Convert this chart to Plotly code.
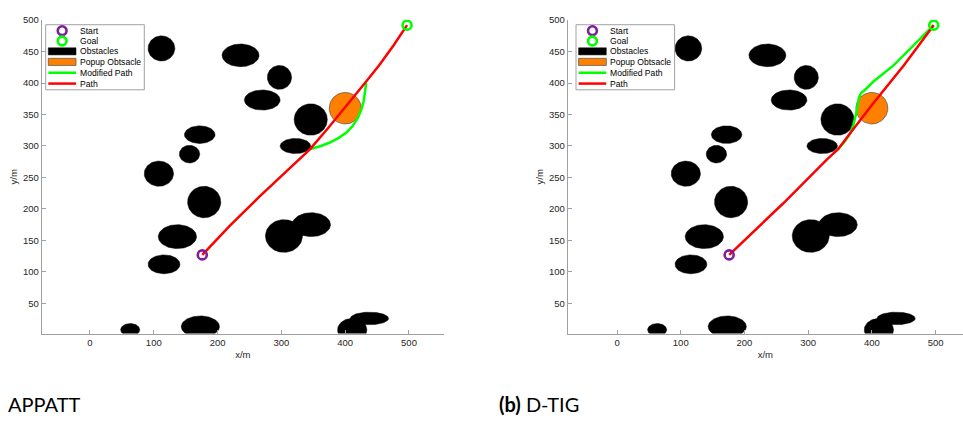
import numpy as np
import plotly.graph_objects as go

# ---------------- data ----------------
start = (176, 127)
goal = (497, 492)

obs_x = [112, 236, 297, 270, 346, 322, 172, 156, 108, 179, 137, 116, 304, 347, 63, 173, 438, 411]
obs_y = [455, 444, 409, 373, 342, 300, 318, 287, 256, 211, 156, 112, 157, 175, 8, 13, 26, 8]
obs_a = [21, 29, 19, 28, 26, 24, 24, 16, 23, 26, 30, 25, 29, 30, 15, 30, 30, 23]
obs_b = [20, 18, 19, 16, 25, 12, 14, 14, 20, 25, 19, 15, 26, 19, 10, 17, 10, 18]

popup_center = (400, 360)
popup_r = 25

# APPATT paths
a_path_x = [176, 219, 266, 345, 372, 400, 431, 453, 476, 497]
a_path_y = [127, 173, 220, 295, 327, 361, 400, 428, 460, 492]
a_mod_x = [345, 362, 376, 390, 402, 412, 420, 425, 429, 431, 432.5, 433]
a_mod_y = [295, 300, 305.5, 313, 321.5, 332, 345, 357, 371, 384, 394, 400]

# D-TIG paths
d_path_x = [176, 261, 330, 347, 365, 400, 450, 497]
d_path_y = [127, 209, 279, 295, 319, 365, 428, 492]
d_mod_x = [347, 358, 366, 371, 375, 377.5, 379.5, 383, 389, 402, 434, 497]
d_mod_y = [295, 308, 320, 334, 350, 364, 376, 384, 389, 402, 428, 492]

x_ticks = [0, 100, 200, 300, 400, 500]
y_ticks = [50, 100, 150, 200, 250, 300, 350, 400, 450, 500]
captions = ["APPATT", "<b>(b)</b> D-TIG"]
legend_labels = ["Start", "Goal", "Obstacles", "Popup Obtsacle", "Modified Path", "Path"]

# ---------------- styles ----------------
C_START = "#7E1E9C"
C_GOAL = "#00FF00"
C_OBS = "black"
C_POP = "#FF8000"
C_MOD = "#00FF00"
C_PATH = "#FF0000"
AX = "#a0a0a0"

W, H = 963, 421
t = np.linspace(0, 2 * np.pi, 91)


def ellipses(xs, ys, a_s, b_s):
    X, Y = [], []
    for cx, cy, a, b in zip(xs, ys, a_s, b_s):
        X += list(cx + a * np.cos(t)) + [None]
        Y += list(cy + b * np.sin(t)) + [None]
    return X, Y


ox, oy = ellipses(obs_x, obs_y, obs_a, obs_b)
px, py = ellipses([popup_center[0]], [popup_center[1]], [popup_r], [popup_r])

fig = go.Figure()

panels = [
    ("x", "y", a_path_x, a_path_y, a_mod_x, a_mod_y),
    ("x2", "y2", d_path_x, d_path_y, d_mod_x, d_mod_y),
]

for xa, ya, rx, ry, mx, my in panels:
    common = dict(xaxis=xa, yaxis=ya, hoverinfo="skip", showlegend=False)
    fig.add_trace(go.Scatter(x=ox, y=oy, mode="lines", fill="toself",
                             fillcolor=C_OBS, line=dict(color=C_OBS, width=0.5),
                             name=legend_labels[2], **common))
    fig.add_trace(go.Scatter(x=px, y=py, mode="lines", fill="toself",
                             fillcolor=C_POP, line=dict(color="#4d4d4d", width=0.7),
                             name=legend_labels[3], **common))
    fig.add_trace(go.Scatter(x=mx, y=my, mode="lines", line=dict(color=C_MOD, width=2.5),
                             name=legend_labels[4], **common))
    fig.add_trace(go.Scatter(x=rx, y=ry, mode="lines", line=dict(color=C_PATH, width=2.5),
                             name=legend_labels[5], **common))
    fig.add_trace(go.Scatter(x=[start[0]], y=[start[1]], mode="markers",
                             marker=dict(symbol="circle-open", size=9, color=C_START, line=dict(width=2.6)),
                             name=legend_labels[0], **common))
    fig.add_trace(go.Scatter(x=[goal[0]], y=[goal[1]], mode="markers",
                             marker=dict(symbol="circle-open", size=9, color=C_GOAL, line=dict(width=2.6)),
                             name=legend_labels[1], **common))

tickfont = dict(family="Liberation Sans, Arial, sans-serif", size=9.5, color="#262626")
axis_common = dict(showgrid=False, zeroline=False, showline=True, linecolor=AX, linewidth=1,
                   ticks="inside", ticklen=4, tickcolor=AX, tickfont=tickfont, mirror=False)

fig.update_layout(
    width=W, height=H, margin=dict(l=0, r=0, t=0, b=0),
    paper_bgcolor="white", plot_bgcolor="white", showlegend=False,
    xaxis=dict(domain=[41.7 / W, 444 / W], range=[-75.7, 554.9], tickvals=x_ticks, anchor="y",
               title=dict(text="x/m", font=tickfont, standoff=4), **axis_common),
    yaxis=dict(domain=[(H - 332.3) / H, (H - 14.3) / H], range=[2, 500], tickvals=y_ticks, anchor="x",
               title=dict(text="y/m", font=tickfont, standoff=3), **axis_common),
    xaxis2=dict(domain=[567.7 / W, 1.0], range=[-77.4, 543], tickvals=x_ticks, anchor="y2",
                title=dict(text="x/m", font=tickfont, standoff=4), **axis_common),
    yaxis2=dict(domain=[(H - 332.3) / H, (H - 14.3) / H], range=[2, 500], tickvals=y_ticks, anchor="x2",
                title=dict(text="y/m", font=tickfont, standoff=3), **axis_common),
)


# ---------------- legends (drawn in paper space, one per panel) ----------------
def PX(v):
    return v / W


def PY(v):
    return (H - v) / H


legfont = dict(family="Liberation Sans, Arial, sans-serif", size=8.6, color="black")
row_y = [25, 35.5, 46, 56.7, 67.7, 78.7]
for left in [45.7, 576]:
    fig.add_shape(type="rect", xref="paper", yref="paper",
                  x0=PX(left), x1=PX(left + 98.6), y0=PY(19), y1=PY(85),
                  line=dict(color=AX, width=1), fillcolor="white", layer="above")
    s0, s1 = left + 2.6, left + 30.3
    sc = (s0 + s1) / 2
    r = 4.4
    for i, col in enumerate([C_START, C_GOAL]):
        fig.add_shape(type="circle", xref="paper", yref="paper",
                      x0=PX(sc - r), x1=PX(sc + r), y0=PY(row_y[i] + r), y1=PY(row_y[i] - r),
                      line=dict(color=col, width=2.6), layer="above")
    fig.add_shape(type="rect", xref="paper", yref="paper",
                  x0=PX(s0), x1=PX(s1), y0=PY(row_y[2] + 3.6), y1=PY(row_y[2] - 3.6),
                  line=dict(color=C_OBS, width=0.5), fillcolor=C_OBS, layer="above")
    fig.add_shape(type="rect", xref="paper", yref="paper",
                  x0=PX(s0), x1=PX(s1), y0=PY(row_y[3] + 3.6), y1=PY(row_y[3] - 3.6),
                  line=dict(color="#4d4d4d", width=0.7), fillcolor=C_POP, layer="above")
    for i, col in [(4, C_MOD), (5, C_PATH)]:
        fig.add_shape(type="line", xref="paper", yref="paper",
                      x0=PX(s0), x1=PX(s1), y0=PY(row_y[i]), y1=PY(row_y[i]),
                      line=dict(color=col, width=2.5), layer="above")
    for i, lab in enumerate(legend_labels):
        fig.add_annotation(text=lab, xref="paper", yref="paper", x=PX(left + 33.3), y=PY(row_y[i]),
                           xanchor="left", yanchor="middle", showarrow=False, font=legfont,
                           borderpad=0)

fig.add_annotation(text=captions[0], xref="paper", yref="paper", x=6 / W, y=(H - 403.5) / H,
                   xanchor="left", yanchor="middle", showarrow=False,
                   font=dict(family="Lato", size=20, color="black"))
fig.add_annotation(text=captions[1], xref="paper", yref="paper", x=497 / W, y=(H - 403.5) / H,
                   xanchor="left", yanchor="middle", showarrow=False,
                   font=dict(family="Lato", size=20, color="black"))

fig.write_html("out.html")
